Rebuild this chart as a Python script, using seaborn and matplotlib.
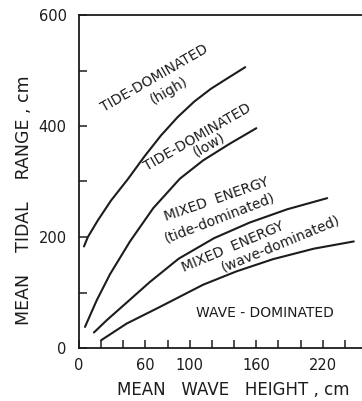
import matplotlib
matplotlib.use("Agg")
import matplotlib.pyplot as plt
import seaborn as sns
import pandas as pd

# Boundary curves (mean wave height cm, mean tidal range cm)
tide_high_x = [4.5, 8, 17, 29, 44, 59, 74, 89, 104, 119, 134, 150]
tide_high_y = [183, 200, 230, 266, 304, 345, 383, 416, 444, 467, 486, 506]

tide_low_x = [5.4, 16, 28, 46, 67, 91, 112, 136, 160]
tide_low_y = [38, 86, 133, 192, 252, 305, 338, 368, 396]

mixed_x = [13.5, 25, 42, 64, 90, 122, 154, 188, 224]
mixed_y = [28, 50, 80, 119, 161, 198, 226, 250, 270]

wave_x = [20, 43, 72, 112, 142, 175, 212, 248]
wave_y = [14, 44, 73, 114, 138, 160, 179, 192]

x_major = [0, 60, 100, 160, 220]
x_minor = [20, 40, 80, 120, 140, 180, 200, 240]
y_major = [0, 200, 400, 600]
y_minor = [100, 300, 500]

# Region labels: text, x, y, rotation
region_labels = [
    ("TIDE-DOMINATED", 68, 486, 30),
    ("(high)", 81, 463, 30),
    ("TIDE-DOMINATED", 107, 379, 30),
    ("(low)", 117, 366, 30),
    ("MIXED  ENERGY", 124, 267, 19),
    ("(tide-dominated)", 127, 235, 21),
    ("MIXED  ENERGY", 139, 182, 23),
    ("(wave-dominated)", 182, 188, 22.5),
    ("WAVE - DOMINATED", 167.6, 62.5, 0),
]

sns.set_style("ticks")
plt.rcParams["font.family"] = ["DejaVu Sans"]
ink = "#1c1c1c"

fig = plt.figure(figsize=(3.62, 4.01), dpi=100)
ax = fig.add_axes([79 / 362, 53 / 401, 283 / 362, 333 / 401])

curves = {
    "tide_high": (tide_high_x, tide_high_y),
    "tide_low": (tide_low_x, tide_low_y),
    "mixed": (mixed_x, mixed_y),
    "wave": (wave_x, wave_y),
}
for name, (xs, ys) in curves.items():
    df = pd.DataFrame({"height": xs, "range": ys})
    sns.lineplot(data=df, x="height", y="range", sort=False, color=ink,
                 linewidth=1.5, ax=ax)

for txt, x, y, rot in region_labels:
    ax.text(x, y, txt, rotation=rot, rotation_mode="anchor", ha="center",
            va="center", fontsize=10, color=ink)

ax.set_xlim(0, 255.4)
ax.set_ylim(0, 600)
ax.set_xticks(x_major)
ax.set_xticks(x_minor, minor=True)
ax.set_yticks(y_major)
ax.set_yticks(y_minor, minor=True)
ax.tick_params(which="both", direction="in", length=5.5, width=1.1,
               color=ink, labelsize=10.5, labelcolor=ink)
ax.tick_params(axis="x", pad=7)
ax.tick_params(axis="y", pad=9)

ax.spines["right"].set_visible(False)
for side in ["left", "bottom", "top"]:
    ax.spines[side].set_linewidth(1.3)
    ax.spines[side].set_color(ink)

ax.set_xlabel("MEAN   WAVE   HEIGHT , cm", fontsize=12, color=ink)
ax.set_ylabel("MEAN    TIDAL    RANGE , cm", fontsize=12.5, color=ink)
ax.xaxis.set_label_coords(0.544, -0.098)
ax.yaxis.set_label_coords(-0.163, 0.444)

fig.savefig("out.png", dpi=100)
